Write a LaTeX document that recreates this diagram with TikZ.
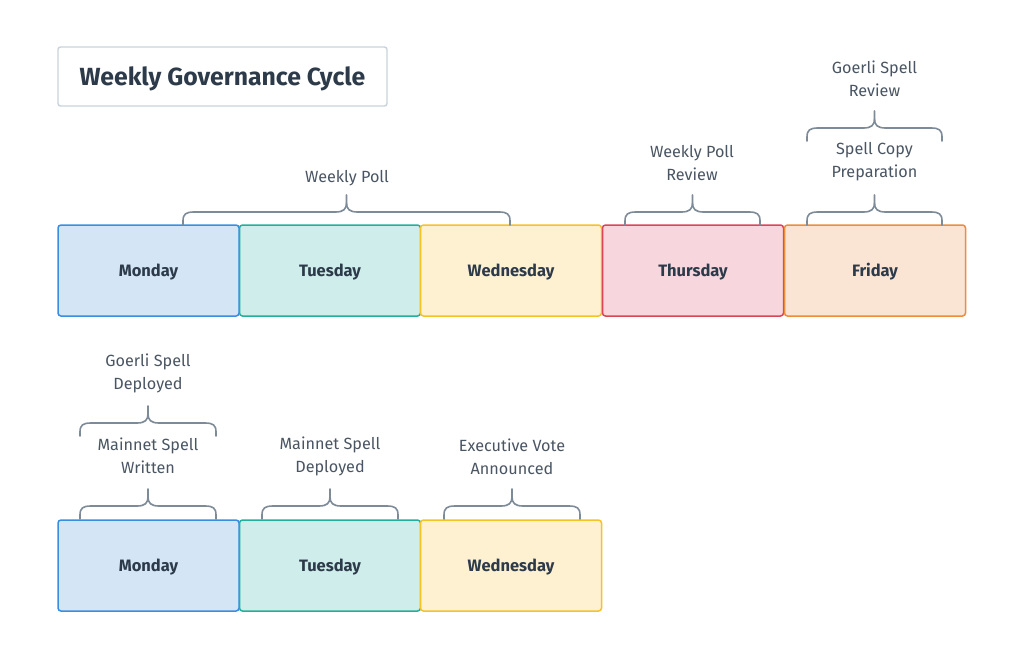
\documentclass[tikz,border=0pt]{standalone}
\usepackage{fontspec}
\setmainfont{Fira Sans}
\usetikzlibrary{calc}
\definecolor{ink}{HTML}{2C3A4A}
\definecolor{labelink}{HTML}{4A5563}
\definecolor{bracecol}{HTML}{7D8A98}
\definecolor{titleedge}{HTML}{C9D3DC}
\definecolor{monfill}{HTML}{D4E5F6}\definecolor{monedge}{HTML}{3A8EE0}
\definecolor{tuefill}{HTML}{CFEDEA}\definecolor{tueedge}{HTML}{22B09A}
\definecolor{wedfill}{HTML}{FDF1D2}\definecolor{wededge}{HTML}{F5C326}
\definecolor{thufill}{HTML}{F7D7DD}\definecolor{thuedge}{HTML}{DC4458}
\definecolor{frifill}{HTML}{FAE4D4}\definecolor{friedge}{HTML}{EF8C3C}
% curly brace: left x, right x, bottom y (pixel units, y grows downward)
\newcommand\curly[3]{%
  \pgfmathsetmacro\cm{(#1+#2)/2}%
  \draw[bracestyle]
    (#1,#3) -- (#1,#3-4)
    .. controls (#1,#3-11) and (#1+3,#3-13) .. (#1+11,#3-13)
    -- (\cm-11,#3-13)
    .. controls (\cm-3,#3-13) and (\cm,#3-16) .. (\cm,#3-22)
    -- (\cm,#3-30);
  \draw[bracestyle]
    (#2,#3) -- (#2,#3-4)
    .. controls (#2,#3-11) and (#2-3,#3-13) .. (#2-11,#3-13)
    -- (\cm+11,#3-13)
    .. controls (\cm+3,#3-13) and (\cm,#3-16) .. (\cm,#3-22);
}
\tikzset{
  bracestyle/.style={draw=bracecol, line width=1.6pt, line cap=round},
  day/.style={minimum width=181pt, minimum height=91pt, line width=1.5pt,
    rounded corners=3pt, inner sep=0pt, text=ink,
    font=\fontsize{16.5}{19}\selectfont\bfseries},
  lbl/.style={align=center, text=labelink, inner sep=0pt,
    font=\fontsize{16.2}{23}\selectfont},
}
\begin{document}
\begin{tikzpicture}[x=1pt,y=-1pt]
\useasboundingbox[fill=white] (0,0) rectangle (1009,664);

% title
\node[draw=titleedge, line width=1.4pt, rounded corners=2.5pt, minimum width=329pt,
  minimum height=59pt, text=ink, font=\fontsize{24.8}{28}\selectfont\bfseries]
  (title) at (222.5,76.5) {};
\node[text=ink, font=\fontsize{24.8}{28}\selectfont\bfseries, inner sep=0pt]
  (titletext) at (222.5,78.5) {Weekly Governance Cycle};

% first week
\node[day, fill=monfill, draw=monedge] (mon1) at (148.5,270.5) {};
\node[day, fill=tuefill, draw=tueedge] (tue1) at (330,270.5) {};
\node[day, fill=wedfill, draw=wededge] (wed1) at (511,270.5) {};
\node[day, fill=thufill, draw=thuedge] (thu1) at (693,270.5) {};
\node[day, fill=frifill, draw=friedge] (fri1) at (875,270.5) {};
\foreach \n/\t in {mon1/Monday, tue1/Tuesday, wed1/Wednesday, thu1/Thursday, fri1/Friday}
  \node[day, draw=none, minimum width=0pt, minimum height=0pt, anchor=base]
    (\n-text) at ($(\n.center)+(0,6)$) {\t};

\curly{183}{510}{225}
\node[lbl] (poll) at (347,178) {Weekly Poll};
\curly{625}{760}{225}
\node[lbl] (pollrev) at (692,163.5) {Weekly Poll\\Review};
\curly{807}{942}{225}
\node[lbl] (copy) at (874.5,162) {Spell Copy\\Preparation};
\curly{807}{942}{141}
\node[lbl] (goerlirev) at (874.5,78.5) {Goerli Spell\\Review};

% second week
\node[day, fill=monfill, draw=monedge] (mon2) at (148.5,565.5) {};
\node[day, fill=tuefill, draw=tueedge] (tue2) at (330,565.5) {};
\node[day, fill=wedfill, draw=wededge] (wed2) at (511,565.5) {};
\foreach \n/\t in {mon2/Monday, tue2/Tuesday, wed2/Wednesday}
  \node[day, draw=none, minimum width=0pt, minimum height=0pt, anchor=base]
    (\n-text) at ($(\n.center)+(0,6)$) {\t};

\curly{80}{216}{519}
\node[lbl] (written) at (148,455.5) {Mainnet Spell\\Written};
\curly{80}{216}{436}
\node[lbl] (goerlidep) at (148,373.5) {Goerli Spell\\Deployed};
\curly{262}{398}{519}
\node[lbl] (mainnetdep) at (330,456.5) {Mainnet Spell\\Deployed};
\curly{444}{580}{519}
\node[lbl] (exec) at (512,456.5) {Executive Vote\\Announced};
\end{tikzpicture}
\end{document}
